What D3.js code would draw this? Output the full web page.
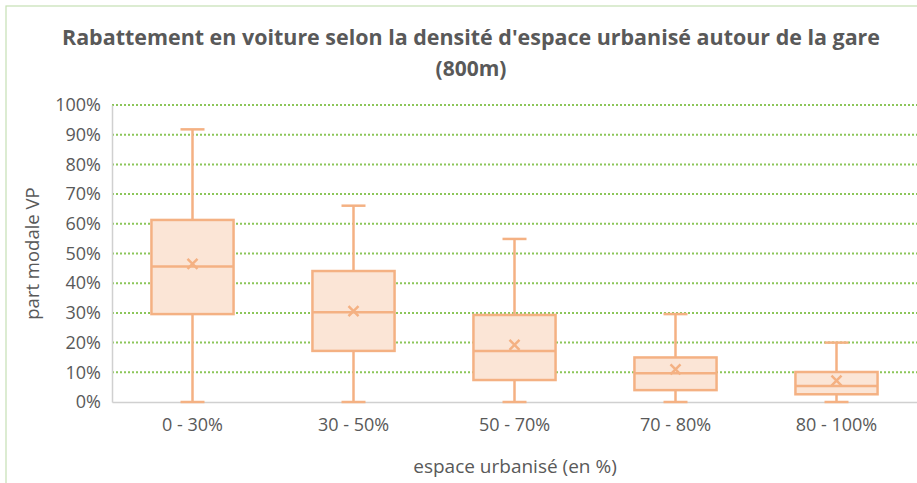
<!DOCTYPE html>
<html>
    <head>
        <meta charset="utf-8">
        <title></title>
        <style>
            body { margin: 0; background: #fff; }
            text { font-family: "Open Sans", sans-serif; }
        </style>
    </head>
    <body>
        <script src="https://cdnjs.cloudflare.com/ajax/libs/d3/7.8.5/d3.min.js"></script>
        <script>

        var w = 917;
        var h = 483;

        // data (values in %)
        var categories = ["0 - 30%", "30 - 50%", "50 - 70%", "70 - 80%", "80 - 100%"];
        var mins    = [0, 0, 0, 0, 0];
        var q1s     = [29.6, 17.2, 7.4, 4.0, 2.6];
        var medians = [45.6, 30.2, 17.2, 9.7, 5.4];
        var q3s     = [61.3, 44.1, 29.3, 15.0, 10.1];
        var maxs    = [91.8, 66.1, 54.9, 29.6, 20.0];
        var means   = [46.5, 30.6, 19.2, 11.0, 7.2];
        var yTicks  = [0, 10, 20, 30, 40, 50, 60, 70, 80, 90, 100];

        var boxes = categories.map(function(c, i) {
            return { cat: c, min: mins[i], q1: q1s[i], med: medians[i], q3: q3s[i], max: maxs[i], mean: means[i] };
        });

        var margin = { left: 112, right: 0, top: 105, bottom: 81 };

        var xScale = d3.scaleBand()
                       .domain(categories)
                       .range([margin.left, w - margin.right])
                       .paddingInner(0);

        var yScale = d3.scaleLinear()
                       .domain([0, 100])
                       .range([h - margin.bottom, margin.top]);

        var svg = d3.select("body")
                    .append("svg")
                    .attr("width", w)
                    .attr("height", h);

        // chart border
        svg.append("rect")
            .attr("x", 6)
            .attr("y", 6)
            .attr("width", w)
            .attr("height", h)
            .attr("fill", "none")
            .attr("stroke", "#c5e0b4")
            .attr("stroke-width", 1.2);

        // title
        var title = svg.append("text")
            .attr("x", 471)
            .attr("y", 45)
            .attr("text-anchor", "middle")
            .attr("font-size", "21px")
            .attr("font-weight", "bold")
            .attr("fill", "#595959");
        title.append("tspan").attr("x", 471)
            .attr("textLength", 818)
            .attr("lengthAdjust", "spacingAndGlyphs")
            .text("Rabattement en voiture selon la densité d'espace urbanisé autour de la gare");
        title.append("tspan").attr("x", 471).attr("dy", 31).text("(800m)");

        // gridlines
        svg.append("g")
            .selectAll("line")
            .data(yTicks.filter(function(d) { return d > 0; }))
            .enter()
            .append("line")
            .attr("x1", margin.left)
            .attr("x2", w)
            .attr("y1", function(d) { return yScale(d); })
            .attr("y2", function(d) { return yScale(d); })
            .attr("stroke", "#8cc65a")
            .attr("stroke-width", 2)
            .attr("stroke-dasharray", "2,2");

        // axes
        var yAxis = d3.axisLeft(yScale)
                      .tickValues(yTicks)
                      .tickSize(0)
                      .tickPadding(11)
                      .tickFormat(function(d) { return d + "%"; });

        var gy = svg.append("g")
            .attr("transform", "translate(" + margin.left + ",0)")
            .call(yAxis);
        gy.select(".domain").attr("stroke", "#d0d0d0").attr("stroke-width", 1.5);
        gy.selectAll("text")
            .attr("font-size", "18px")
            .attr("fill", "#595959")
            .style("font-family", "'Open Sans', sans-serif");

        var xAxis = d3.axisBottom(xScale).tickSize(0).tickPadding(16);
        var gx = svg.append("g")
            .attr("transform", "translate(0," + yScale(0) + ")")
            .call(xAxis);
        gx.select(".domain").attr("stroke", "#d0d0d0").attr("stroke-width", 1.5);
        gx.selectAll("text")
            .attr("font-size", "18px")
            .attr("fill", "#595959")
            .style("font-family", "'Open Sans', sans-serif");

        // axis titles
        svg.append("text")
            .attr("x", 515)
            .attr("y", 473)
            .attr("text-anchor", "middle")
            .attr("font-size", "19px")
            .attr("fill", "#595959")
            .text("espace urbanisé (en %)");

        svg.append("text")
            .attr("transform", "translate(39," + yScale(50) + ") rotate(-90)")
            .attr("text-anchor", "middle")
            .attr("font-size", "18.5px")
            .attr("fill", "#595959")
            .text("part modale VP");

        // boxes
        var stroke = "#f4b183";
        var boxW = xScale.bandwidth() * 0.51;
        var capW = 24;

        var g = svg.append("g")
            .selectAll("g")
            .data(boxes)
            .enter()
            .append("g")
            .attr("transform", function(d) {
                return "translate(" + (xScale(d.cat) + xScale.bandwidth() / 2) + ",0)";
            });

        // whiskers
        g.append("line")
            .attr("x1", 0).attr("x2", 0)
            .attr("y1", function(d) { return yScale(d.max); })
            .attr("y2", function(d) { return yScale(d.min); })
            .attr("stroke", stroke)
            .attr("stroke-width", 2.5);

        g.selectAll(".cap")
            .data(function(d) { return [d.min, d.max]; })
            .enter()
            .append("line")
            .attr("class", "cap")
            .attr("x1", -capW / 2).attr("x2", capW / 2)
            .attr("y1", function(v) { return yScale(v); })
            .attr("y2", function(v) { return yScale(v); })
            .attr("stroke", stroke)
            .attr("stroke-width", 2.5);

        g.append("rect")
            .attr("x", -boxW / 2)
            .attr("width", boxW)
            .attr("y", function(d) { return yScale(d.q3); })
            .attr("height", function(d) { return yScale(d.q1) - yScale(d.q3); })
            .attr("fill", "#fbe5d6")
            .attr("stroke", stroke)
            .attr("stroke-width", 2.5);

        g.append("line")
            .attr("x1", -boxW / 2).attr("x2", boxW / 2)
            .attr("y1", function(d) { return yScale(d.med); })
            .attr("y2", function(d) { return yScale(d.med); })
            .attr("stroke", stroke)
            .attr("stroke-width", 2.5);

        // mean markers
        g.append("path")
            .attr("d", function(d) {
                var y = yScale(d.mean), s = 5;
                return "M" + (-s) + "," + (y - s) + "L" + s + "," + (y + s) +
                       "M" + (-s) + "," + (y + s) + "L" + s + "," + (y - s);
            })
            .attr("stroke", stroke)
            .attr("stroke-width", 2.5)
            .attr("fill", "none");

        </script>
    </body>
</html>
